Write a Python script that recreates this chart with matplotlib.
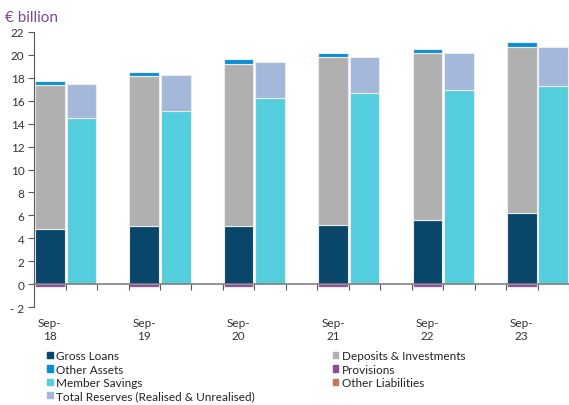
import matplotlib.pyplot as plt
import numpy as np
from matplotlib.patches import Patch
from matplotlib.transforms import blended_transform_factory

plt.rcParams['font.family'] = ['Lato', 'DejaVu Sans']

years = ['Sep-\n18', 'Sep-\n19', 'Sep-\n20', 'Sep-\n21', 'Sep-\n22', 'Sep-\n23']

# assets side
gross_loans = [4.8, 5.1, 5.1, 5.2, 5.6, 6.2]
deposits_inv = [12.6, 13.05, 14.1, 14.6, 14.6, 14.5]
other_assets = [0.35, 0.35, 0.4, 0.4, 0.35, 0.4]
provisions = [-0.2, -0.2, -0.2, -0.2, -0.2, -0.2]
# liabilities side
member_savings = [14.5, 15.1, 16.2, 16.65, 16.95, 17.3]
total_reserves = [2.95, 3.1, 3.15, 3.15, 3.2, 3.4]
other_liabs = [0.0, 0.0, 0.0, 0.0, 0.0, 0.0]

c_gl = '#08466A'
c_di = '#B0B0B0'
c_oa = '#0A8FD6'
c_pr = '#8E4A9C'
c_ms = '#54CEDC'
c_ol = '#C8765A'
c_tr = '#A3B8DA'

fig = plt.figure(figsize=(5.69, 4.06), dpi=100)
ax = fig.add_axes([0.06, 0.241, 0.94, 0.678])

n = len(years)
xa = np.arange(n) * 3
xl = xa + 1
w = 0.94
ec = '#ececec'
lw = 0.8

gl = np.array(gross_loans)
di = np.array(deposits_inv)
ax.bar(xa, gl, w, color=c_gl, edgecolor=ec, linewidth=lw)
ax.bar(xa, di, w, bottom=gl, color=c_di, edgecolor=ec, linewidth=lw)
ax.bar(xa, other_assets, w, bottom=gl + di, color=c_oa, edgecolor=ec, linewidth=lw)
ax.bar(xa, provisions, w, color=c_pr, edgecolor=ec, linewidth=lw)

ms = np.array(member_savings)
tr = np.array(total_reserves)
ax.bar(xl, ms, w, color=c_ms, edgecolor=ec, linewidth=lw)
ax.bar(xl, tr, w, bottom=ms, color=c_tr, edgecolor=ec, linewidth=lw)
ax.bar(xl, other_liabs, w, bottom=ms + tr, color=c_ol, edgecolor=ec, linewidth=0)

ax.set_xlim(-0.5, 3 * n - 1.5)
ax.set_ylim(-2, 22)
ax.set_yticks(range(-2, 23, 2))
ax.set_yticklabels(['- 2' if v < 0 else str(v) for v in range(-2, 23, 2)])
ax.tick_params(axis='y', length=4, color='#595959', labelsize=8.5, labelcolor='#333333', pad=3)

ax.spines['top'].set_visible(False)
ax.spines['right'].set_visible(False)
ax.spines['left'].set_color('#595959')
ax.spines['bottom'].set_position(('data', 0))
ax.spines['bottom'].set_color('#808080')
ax.spines['bottom'].set_linewidth(1.2)

ax.set_xticks(np.arange(0.5, 3 * n - 1, 1.0))
ax.set_xticklabels([])
ax.tick_params(axis='x', length=4, color='#595959')

trans = blended_transform_factory(ax.transData, ax.transAxes)
for x, lab in zip(xa, years):
    ax.text(x, -0.035, lab, transform=trans, ha='center', va='top',
            fontsize=8.5, color='#333333', linespacing=1.25)

fig.text(0.008, 0.955, '€ billion', color='#7B4A8E', fontsize=11, va='center')

handles = [Patch(color=c_gl, label='Gross Loans'),
           Patch(color=c_oa, label='Other Assets'),
           Patch(color=c_ms, label='Member Savings'),
           Patch(color=c_tr, label='Total Reserves (Realised & Unrealised)'),
           Patch(color=c_di, label='Deposits & Investments'),
           Patch(color=c_pr, label='Provisions'),
           Patch(color=c_ol, label='Other Liabilities')]
fig.legend(handles=handles, ncol=2, loc='upper left', bbox_to_anchor=(0.083, 0.135),
           frameon=False, fontsize=8.5, handlelength=0.45, handleheight=0.45,
           handletextpad=0.3, labelspacing=0.2, columnspacing=6.6,
           borderaxespad=0, borderpad=0, labelcolor='#222222')

fig.savefig('out.png', dpi=100)
